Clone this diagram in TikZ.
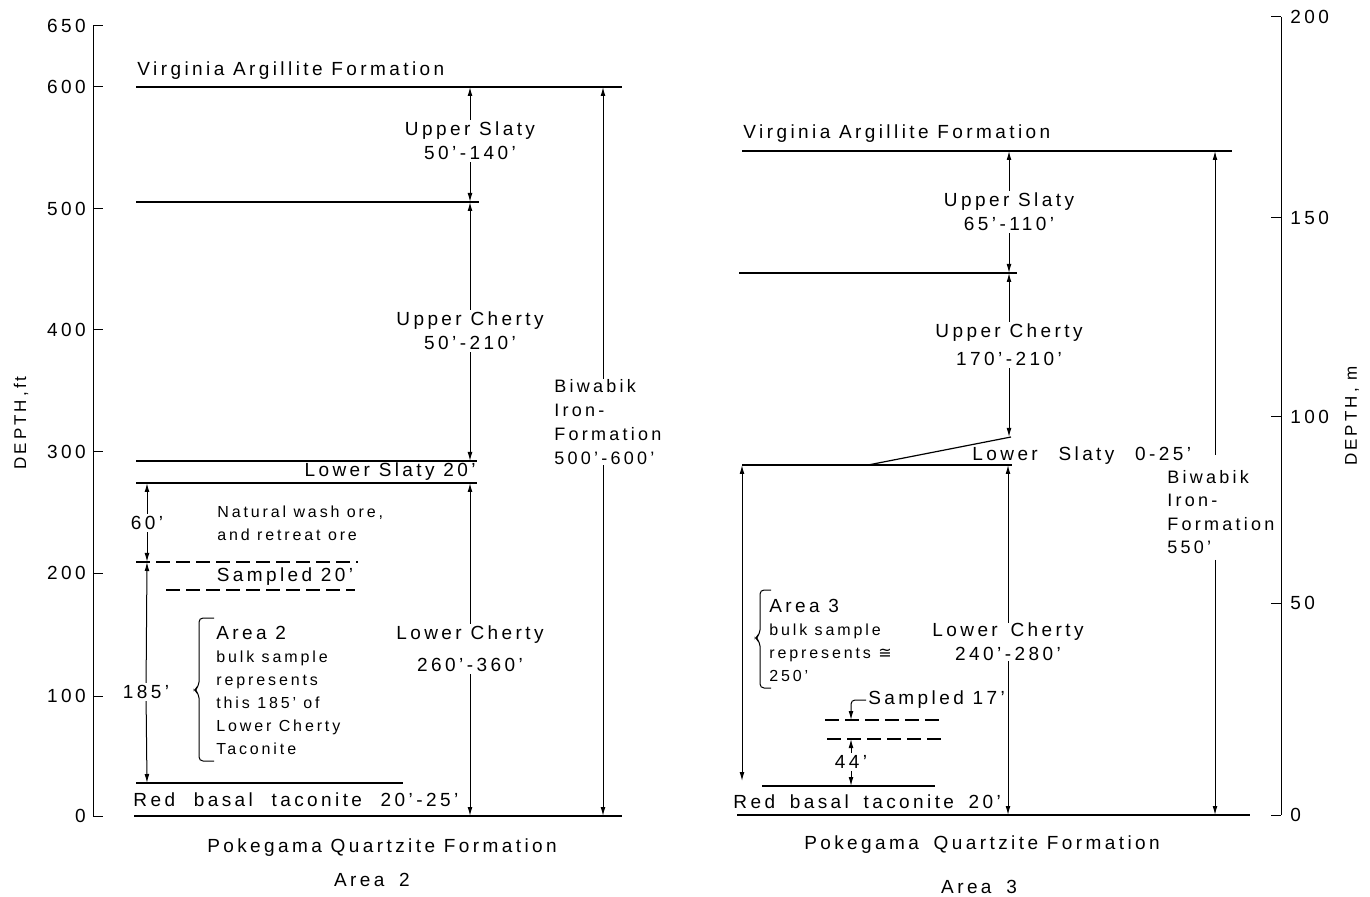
\documentclass[tikz,border=0pt]{standalone}
\usepackage{fontspec}
\setmainfont[LetterSpace=18]{Liberation Sans}
\newfontfamily\symfont{DejaVu Sans}
\usepackage{tikz}
\usetikzlibrary{arrows.meta}

\begin{document}
\begin{tikzpicture}[
  x=0.5pt, y=-0.5pt,
  lbl/.style={font=\fontsize{9.5}{12}\selectfont, inner sep=1pt, align=center},
  note/.style={font=\fontsize{8}{11.5}\selectfont, inner sep=0pt, align=left, anchor=west},
  num/.style={font=\fontsize{9.5}{11}\selectfont, inner sep=1pt},
  bed/.style={line width=0.6pt},
  smp/.style={line width=0.6pt, dash pattern=on 7pt off 3pt},
  dim/.style={-{Latex[length=4.5pt, width=2.4pt]}, line width=0.5pt},
  axis/.style={line width=0.5pt}
]
\useasboundingbox (0,0) rectangle (1370,897);

% Depth scales
\draw[axis] (93,26) -- (93,816);
\foreach \d/\y in {650/26, 600/87, 500/209, 400/330, 300/452, 200/573, 100/696, 0/816} {
  \draw[axis] (93,\y) -- (103,\y);
  \node[num, anchor=east] at (88,\y) {\d};
}
\node[num, font=\fontsize{8.5}{10}\selectfont, rotate=90] (dft) at (21,423) {DEPTH,ft};

\draw[axis] (1281,17) -- (1281,815);
\foreach \d/\y in {200/17, 150/218, 100/417, 50/603, 0/815} {
  \draw[axis] (1271,\y) -- (1281,\y);
  \node[num, anchor=west] at (1288,\y) {\d};
}
\node[num, font=\fontsize{8.5}{10}\selectfont, rotate=90] (dm) at (1352,416) {DEPTH, m};

% Area 2 -- boundaries
\draw[bed] (136,87) -- (622,87);
\draw[bed] (136,202) -- (479,202);
\draw[bed] (136,461) -- (477,461);
\draw[bed] (136,483) -- (477,483);
\draw[smp] (136,562) -- (358,562);
\draw[smp] (166,590) -- (355,590);
\draw[bed] (136,783) -- (403,783);
\draw[bed] (134,816) -- (622,816);

\coordinate (top2) at (470,87);
\coordinate (us2b) at (470,202);
\coordinate (ls2t) at (470,461);
\coordinate (ls2b) at (470,483);
\coordinate (bot2) at (470,816);
\coordinate (bwt2) at (603,87);
\coordinate (bwb2) at (603,816);

% Area 2 -- units
\node[lbl, anchor=west] (vaf2) at (135,71) {Virginia Argillite Formation};
\node[lbl] (us2) at (470,141) {Upper Slaty\\50'-140'};
\node[lbl] (uc2) at (470,331) {Upper Cherty\\50'-210'};
\node[lbl, anchor=east] (lsl2) at (478,472) {Lower Slaty 20'};
\node[lbl] (lc2) at (470,649) {Lower Cherty\\[4pt]260'-360'};
\node[note, font=\fontsize{9}{12}\selectfont] (bw2) at (554,422) {Biwabik\\Iron-\\Formation\\500'-600'};
\node[note] (nw2) at (217,523) {Natural wash ore,\\and retreat ore};
\node[lbl] (smp2) at (285,577) {Sampled 20'};
\node[lbl] (d60) at (147,523) {60'};
\node[lbl] (d185) at (146,692) {185'};
\node[lbl, anchor=west] (rbt2) at (131,800) {Red\hspace{5pt} basal\hspace{5pt} taconite\hspace{5pt} 20'-25'};
\node[lbl] (pqf2) at (382,848) {Pokegama Quartzite Formation};
\node[lbl] (ar2) at (372,880) {Area\hspace{3pt} 2};

\draw[axis, rounded corners=2pt] (214,618) -- (199,618) -- (199,686) -- (194,690) -- (199,694) -- (199,761) -- (214,761);
\node[note] (bs2) at (216,690) {{\fontsize{9.5}{11.5}\selectfont Area 2}\\bulk sample\\represents\\this 185' of\\Lower Cherty\\Taconite};

% Area 2 -- thicknesses
\draw[dim] (us2) -- (top2);
\draw[dim] (us2) -- (us2b);
\draw[dim] (uc2) -- (us2b);
\draw[dim] (uc2) -- (ls2t);
\draw[dim] (lc2) -- (ls2b);
\draw[dim] (lc2) -- (bot2);
\draw[dim] (bw2.north -| bwt2) -- (bwt2);
\draw[dim] (bw2.south -| bwt2) -- (bwb2);
\draw[dim] (d60) -- (d60 |- ls2b);
\draw[dim] (d60) -- (147,562);
\draw[dim] (d185) -- (147,562);
\draw[dim] (d185) -- (147,783);

% Area 3 -- boundaries
\draw[bed] (742,151) -- (1232,151);
\draw[bed] (739,273) -- (1017,273);
\draw[bed] (868,465) -- (1011,437);
\draw[bed] (742,465) -- (1012,465);
\draw[smp] (825,720) -- (944,720);
\draw[smp] (827,739) -- (947,739);
\draw[bed] (762,786) -- (935,786);
\draw[bed] (737,815) -- (1250,815);

\coordinate (top3) at (1009,151);
\coordinate (us3b) at (1009,273);
\coordinate (ls3t) at (1009,437);
\coordinate (ls3b) at (1008,465);
\coordinate (bot3) at (1008,815);
\coordinate (bwt3) at (1215,151);
\coordinate (bwb3) at (1215,815);
\coordinate (lft3t) at (742,465);
\coordinate (lft3b) at (742,781);

% Area 3 -- units
\node[lbl, anchor=west] (vaf3) at (741,134) {Virginia Argillite Formation};
\node[lbl] (us3) at (1009,212) {Upper Slaty\\65'-110'};
\node[lbl] (uc3) at (1009,345) {Upper Cherty\\[2pt]170'-210'};
\node[lbl, anchor=west] (lsl3) at (970,456) {Lower\hspace{6pt} Slaty\hspace{6pt} 0-25'};
\node[lbl, inner sep=0pt] (lc3) at (1008,642) {Lower\hspace{2pt} Cherty\\240'-280'};
\node[note, font=\fontsize{9}{11.8}\selectfont] (bw3) at (1167,512) {Biwabik\\Iron-\\Formation\\550'};
\node[lbl, anchor=west] (smp3) at (866,700) {Sampled 17'};
\node[lbl] (d44) at (851,762) {44'};
\node[lbl, anchor=west] (rbt3) at (731,802) {Red\hspace{3pt} basal\hspace{3pt} taconite\hspace{3pt} 20'};
\node[lbl] (pqf3) at (982,845) {Pokegama\hspace{3pt} Quartzite Formation};
\node[lbl] (ar3) at (979,887) {Area\hspace{3pt} 3};

\draw[axis, rounded corners=2pt] (771,590) -- (760,590) -- (760,634) -- (755,638) -- (760,642) -- (760,688) -- (771,688);
\node[note] (bs3) at (769,640) {{\fontsize{9.5}{11.5}\selectfont Area 3}\\bulk sample\\represents {\symfont ≅}\\250'};

% Area 3 -- thicknesses
\draw[dim] (us3) -- (top3);
\draw[dim] (us3) -- (us3b);
\draw[dim] (uc3) -- (us3b);
\draw[dim] (uc3) -- (ls3t);
\draw[dim] (lc3) -- (ls3b);
\draw[dim] (lc3) -- (bot3);
\draw[dim] (1215,455) -- (bwt3);
\draw[dim] (1215,560) -- (bwb3);
\draw[{Latex[length=4.5pt, width=2.4pt]}-{Latex[length=4.5pt, width=2.4pt]}, line width=0.5pt] (lft3t) -- (lft3b);
\draw[dim, rounded corners=2pt] (smp3.west) -- (851,700) -- (851,720);
\draw[dim] (d44) -- (851,739);
\draw[dim] (d44) -- (851,786);

\end{tikzpicture}
\end{document}
